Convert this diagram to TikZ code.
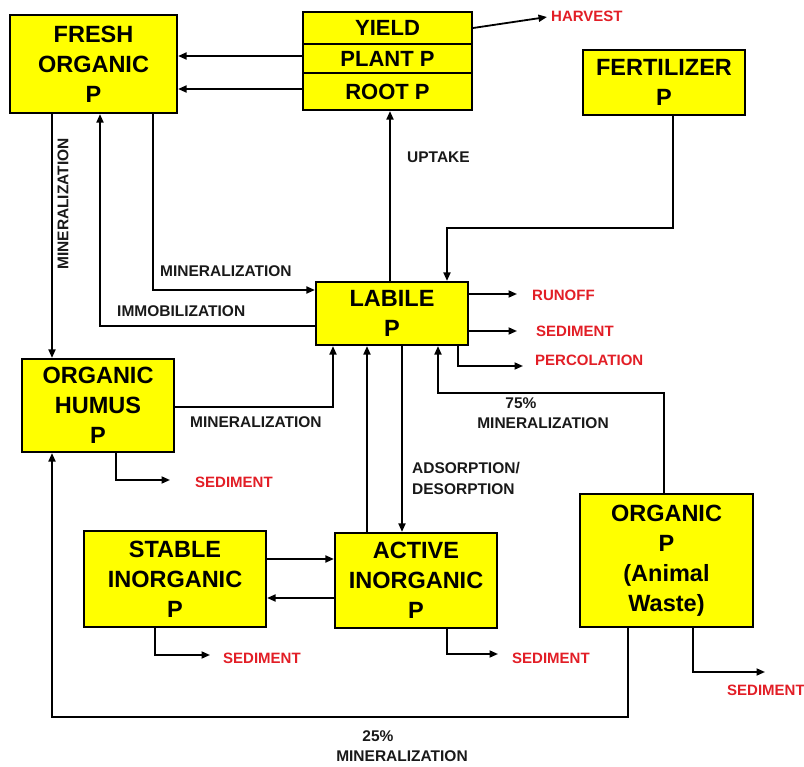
\documentclass[tikz,border=0pt]{standalone}
\usepackage{fontspec}
\setmainfont{Liberation Sans}
\usetikzlibrary{arrows.meta}
\definecolor{boxyellow}{RGB}{255,255,0}
\definecolor{outred}{RGB}{226,30,38}
\definecolor{txtblack}{RGB}{25,25,25}
\tikzset{
  box/.style={draw=black, line width=2.2pt, fill=boxyellow, rectangle, inner sep=0pt,
    align=center, font=\fontsize{23.5}{30}\selectfont\bfseries},
  rowbox/.style={box, font=\fontsize{22}{26}\selectfont\bfseries},
  arr/.style={line width=1.8pt, -{Triangle[length=8.5pt,width=7pt]}},
  ln/.style={line width=1.8pt},
  lbl/.style={inner sep=0pt, text=txtblack, font=\fontsize{15.5}{21}\selectfont\bfseries},
  outlbl/.style={inner sep=0pt, anchor=west, text=outred, font=\fontsize{15}{18}\selectfont\bfseries},
}
\begin{document}
\begin{tikzpicture}[x=1pt, y=-1pt]
\useasboundingbox (0,0) rectangle (804,767);

% boxes
\node[box, minimum width=167pt, minimum height=98pt] (fresh) at (93.5,64) {FRESH\\ORGANIC\\P};
\node[rowbox, minimum width=169pt, minimum height=32pt] (yield) at (387.5,28) {YIELD};
\node[rowbox, minimum width=169pt, minimum height=29pt] (plant) at (387.5,58.5) {PLANT P};
\node[rowbox, minimum width=169pt, minimum height=37pt] (root) at (387.5,91.5) {ROOT P};
\node[box, minimum width=162pt, minimum height=65pt] (fert) at (664,82.5) {FERTILIZER\\P};
\node[box, minimum width=152pt, minimum height=63pt] (labile) at (392,313.5) {LABILE\\P};
\node[box, minimum width=152pt, minimum height=93pt] (humus) at (98,405.5) {ORGANIC\\HUMUS\\P};
\node[box, minimum width=182pt, minimum height=96pt] (stable) at (175,579) {STABLE\\INORGANIC\\P};
\node[box, minimum width=162pt, minimum height=95pt] (active) at (416,580.5) {ACTIVE\\INORGANIC\\P};
\node[box, minimum width=173pt, minimum height=133pt] (waste) at (666.5,560.5) {ORGANIC\\P\\(Animal\\Waste)};

% free ends of outflows
\coordinate (harvestend) at (547,17);
\coordinate (runoffend) at (517,294);
\coordinate (labsedend) at (517,331);
\coordinate (percend) at (523,366);
\coordinate (humsedend) at (170,480);
\coordinate (stabsedend) at (210,655);
\coordinate (actsedend) at (498,654);
\coordinate (wastesedend) at (765,672);

% output labels
\node[outlbl] (harvest) at (551,16) {HARVEST};
\node[outlbl] (runoff) at (532,295) {RUNOFF};
\node[outlbl] (labsed) at (536,331) {SEDIMENT};
\node[outlbl] (perc) at (535,360) {PERCOLATION};
\node[outlbl] (humsed) at (195,482) {SEDIMENT};
\node[outlbl] (stabsed) at (223,658) {SEDIMENT};
\node[outlbl] (actsed) at (512,658) {SEDIMENT};
\node[outlbl] (wastesed) at (727,690) {SEDIMENT};

% flow labels
\node[lbl, anchor=west] (uptake) at (407,157) {UPTAKE};
\node[lbl, anchor=west] (minfresh) at (160,271) {MINERALIZATION};
\node[lbl, anchor=west] (immob) at (117,311) {IMMOBILIZATION};
\node[lbl, rotate=90] (minvert) at (63,204) {MINERALIZATION};
\node[lbl, anchor=west] (minhum) at (190,422) {MINERALIZATION};
\node[lbl, anchor=north west, align=left] (adsorb) at (412,462) {ADSORPTION/\\DESORPTION};
\node[lbl] (p75) at (521,403) {75\%};
\node[lbl] (min75) at (543,423) {MINERALIZATION};
\node[lbl] (p25) at (378,736) {25\%};
\node[lbl] (min25) at (402,756) {MINERALIZATION};

% connectors
\draw[arr] (plant.west |- 0,56) -- (fresh.east |- 0,56);
\draw[arr] (root.west |- 0,89) -- (fresh.east |- 0,89);
\draw[arr] (yield.east) -- (harvestend);
\draw[arr] (labile.north -| 390,0) -- (root.south -| 390,0);
\draw[arr] (fert.south -| 673,0) -- (673,228) -- (447,228) -- (labile.north -| 447,0);
\draw[arr] (fresh.south -| 153,0) |- (labile.west |- 0,290);
\draw[arr] (labile.west |- 0,326) -| (fresh.south -| 100,0);
\draw[arr] (fresh.south -| 52,0) -- (humus.north -| 52,0);
\draw[arr] (humus.east |- 0,407) -| (labile.south -| 333,0);
\draw[arr] (humus.south -| 116,0) |- (humsedend);
\draw[arr] (active.north -| 367,0) -- (labile.south -| 367,0);
\draw[arr] (labile.south -| 402,0) -- (active.north -| 402,0);
\draw[arr] (labile.east |- runoffend) -- (runoffend);
\draw[arr] (labile.east |- labsedend) -- (labsedend);
\draw[arr] (labile.south -| 458,0) |- (percend);
\draw[arr] (waste.north -| 664,0) -- (664,393) -| (labile.south -| 438,0);
\draw[arr] (waste.south -| 628,0) -- (628,717) -| (humus.south -| 52,0);
\draw[arr] (stable.east |- 0,559) -- (active.west |- 0,559);
\draw[arr] (active.west |- 0,598) -- (stable.east |- 0,598);
\draw[arr] (stable.south -| 155,0) |- (stabsedend);
\draw[arr] (active.south -| 447,0) |- (actsedend);
\draw[arr] (waste.south -| 693,0) |- (wastesedend);
\end{tikzpicture}
\end{document}
